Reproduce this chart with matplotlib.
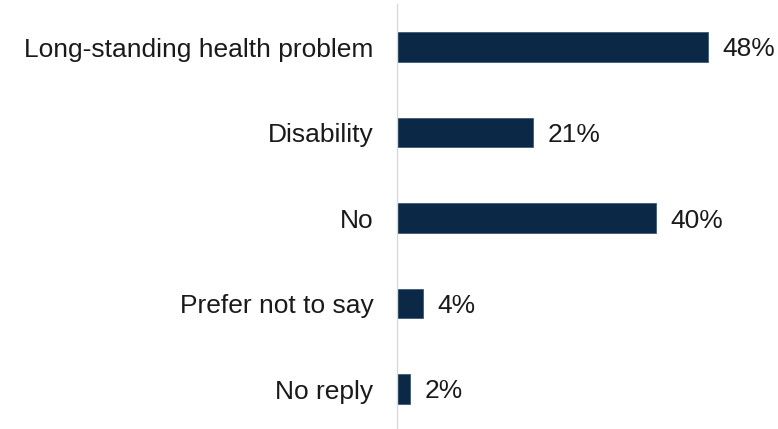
import matplotlib
matplotlib.use("Agg")
import matplotlib.pyplot as plt

categories = ["Long-standing health problem", "Disability", "No",
              "Prefer not to say", "No reply"]
values = [48, 21, 40, 4, 2]
labels = ["48%", "21%", "40%", "4%", "2%"]

plt.rcParams["font.family"] = ["Liberation Sans", "DejaVu Sans"]

fig = plt.figure(figsize=(7.78, 4.29), dpi=100)
ax = fig.add_axes([397 / 778, 1 - 431.75 / 429, 324 / 778, 427.5 / 429])

pos = list(range(len(categories)))
ax.barh(pos, values, height=0.35, color="#0B2947", edgecolor="#3C5A78",
        linewidth=0.6)
ax.set_ylim(len(categories) - 0.5, -0.5)
ax.set_xlim(0, 50)

for p, v, lab in zip(pos, values, labels):
    ax.annotate(lab, xy=(v, p), xytext=(10.5, 0), textcoords="offset points",
                va="center_baseline", ha="left", fontsize=19, color="#1a1a1a",
                annotation_clip=False)

ax.set_yticks(pos)
ax.set_yticklabels(categories, fontsize=19, color="#1a1a1a",
                   va="center_baseline")
ax.tick_params(axis="y", length=0, pad=17)
ax.set_xticks([])
for s in ["top", "right", "bottom"]:
    ax.spines[s].set_visible(False)
ax.spines["left"].set_color("#d9d9d9")
ax.spines["left"].set_linewidth(1.0)

fig.savefig("out.png", dpi=100)
